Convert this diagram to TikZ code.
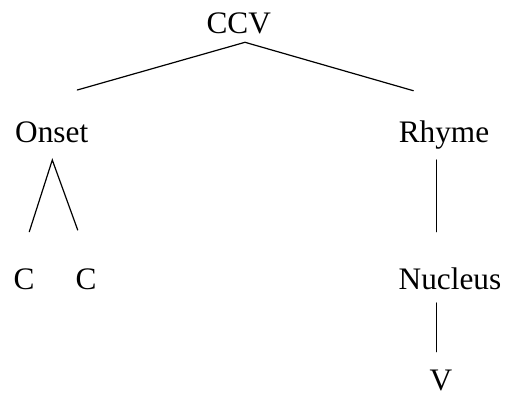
\documentclass[tikz,border=0pt]{standalone}
\usepackage{fontspec}
\setmainfont{Liberation Serif}
\begin{document}
\begin{tikzpicture}[x=1pt,y=-1pt,
  lbl/.style={anchor=base,inner sep=0pt,font=\fontsize{31.3}{36}\selectfont},
  edge/.style={line width=1.2pt,line cap=round}]
\useasboundingbox (0,0) rectangle (506,403);
\node[lbl] (ccv) at (238.7,33.3) {CCV};
\node[lbl] (onset) at (51.7,142.7) {Onset};
\node[lbl] (rhyme) at (444,142.7) {Rhyme};
\node[lbl] (c1) at (24,290) {C};
\node[lbl] (c2) at (86,290) {C};
\node[lbl] (nucleus) at (450,290) {Nucleus};
\node[lbl] (v) at (441,390) {V};
\coordinate (ccvtop) at (245,42.3);
\coordinate (onsetup) at (77.3,90);
\coordinate (rhymeup) at (413.3,90.7);
\coordinate (onsettop) at (52.3,160);
\coordinate (c1up) at (29.3,231.7);
\coordinate (c2up) at (77.7,230);
\coordinate (rhymedown) at (436.7,160);
\coordinate (nucup) at (436.7,231.7);
\coordinate (nucdown) at (436.7,303);
\coordinate (vup) at (436.7,351.7);
\draw[edge] (onsetup) -- (ccvtop) -- (rhymeup);
\draw[edge] (c1up) -- (onsettop) -- (c2up);
\draw[edge] (rhymedown) -- (nucup);
\draw[edge] (nucdown) -- (vup);
\end{tikzpicture}
\end{document}
